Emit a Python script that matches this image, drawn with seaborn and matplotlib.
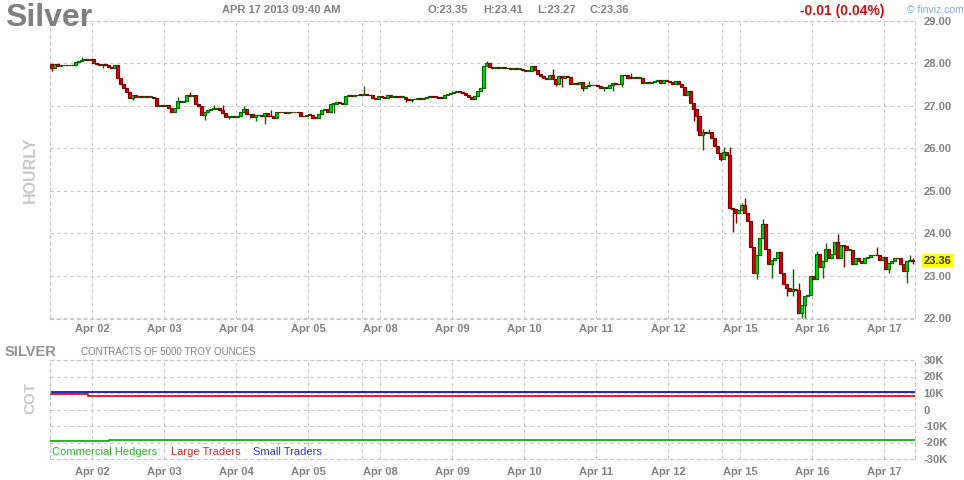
import numpy as np
import pandas as pd
import matplotlib
matplotlib.use("Agg")
import matplotlib.pyplot as plt
import seaborn as sns

# ---------------- data ----------------
open_first = 27.97
closes = [
    27.88, 27.97, 27.94, 27.95, 27.96, 27.95, 27.96, 27.95, 28.03, 28.06,
    28.08, 28.10, 28.07, 28.09, 27.99, 27.97, 27.96, 27.98, 27.95, 27.90,
    27.89, 27.96, 27.65, 27.50, 27.42, 27.33, 27.17, 27.26, 27.20, 27.21,
    27.20, 27.21, 27.20, 27.21, 27.18, 27.00, 27.02, 26.98, 27.01, 26.94,
    26.86, 26.95, 27.10, 27.09, 27.12, 27.24, 27.22, 27.25, 27.05, 26.98,
    26.78, 26.86, 26.90, 26.93, 26.93, 26.94, 26.90, 26.82, 26.74, 26.74,
    26.75, 26.74, 26.76, 26.85, 26.92, 26.80, 26.80, 26.73, 26.77, 26.78,
    26.76, 26.83, 26.76, 26.75, 26.72, 26.85, 26.84, 26.86, 26.83, 26.85,
    26.84, 26.86, 26.84, 26.76, 26.75, 26.79, 26.78, 26.72, 26.71, 26.80,
    26.90, 26.91, 26.86, 27.05, 27.05, 27.08, 27.06, 27.04, 27.22, 27.24,
    27.23, 27.24, 27.26, 27.25, 27.28, 27.26, 27.24, 27.19, 27.16, 27.22,
    27.21, 27.18, 27.24, 27.20, 27.22, 27.21, 27.20, 27.21, 27.15, 27.14,
    27.15, 27.16, 27.17, 27.16, 27.18, 27.21, 27.22, 27.21, 27.20, 27.19,
    27.18, 27.26, 27.28, 27.29, 27.33, 27.35, 27.32, 27.30, 27.24, 27.20,
    27.16, 27.23, 27.35, 27.42, 27.93, 28.00, 27.90, 27.89, 27.90, 27.88,
    27.91, 27.88, 27.89, 27.87, 27.88, 27.86, 27.87, 27.84, 27.82, 27.82,
    27.94, 27.84, 27.75, 27.69, 27.65, 27.63, 27.72, 27.62, 27.50, 27.70,
    27.66, 27.70, 27.68, 27.51, 27.53, 27.51, 27.56, 27.42, 27.46, 27.48,
    27.49, 27.48, 27.47, 27.42, 27.43, 27.42, 27.49, 27.53, 27.51, 27.50,
    27.73, 27.71, 27.66, 27.65, 27.67, 27.65, 27.65, 27.53, 27.55, 27.54,
    27.55, 27.58, 27.60, 27.54, 27.60, 27.58, 27.55, 27.52, 27.57, 27.50,
    27.44, 27.25, 27.34, 27.06, 26.92, 26.76, 26.32, 26.37, 26.36, 26.37,
    26.25, 26.06, 25.89, 25.75, 25.90, 25.85, 24.59, 24.58, 24.47, 24.55,
    24.67, 24.48, 24.28, 23.69, 23.08, 23.50, 23.90, 24.23, 23.64, 23.27,
    23.37, 23.42, 23.56, 23.08, 22.80, 22.71, 22.65, 22.70, 22.68, 22.12,
    22.31, 22.53, 22.56, 23.00, 22.92, 23.51, 23.22, 23.35, 23.64, 23.43,
    23.51, 23.80, 23.41, 23.72, 23.71, 23.62, 23.62, 23.29, 23.43, 23.35,
    23.30, 23.43, 23.45, 23.48, 23.49, 23.48, 23.37, 23.45, 23.17, 23.31,
    23.35, 23.43, 23.41, 23.27, 23.12, 23.35, 23.37, 23.36,
]
wick_highs = {10: 28.15, 42: 27.21, 46: 27.33, 54: 27.02, 57: 27.02, 64: 27.00,
              73: 26.90, 104: 27.47, 145: 28.04, 167: 27.87, 179: 27.59,
              193: 27.77, 217: 26.44, 219: 26.44, 224: 26.03, 226: 26.03,
              230: 24.72, 231: 24.84, 237: 24.34, 247: 23.16, 249: 22.84,
              253: 22.76, 255: 23.59, 258: 23.78, 262: 23.98, 275: 23.69,
              286: 23.50, 287: 23.41}
wick_lows = {0: 27.82, 17: 27.89, 27: 27.13, 51: 26.67, 59: 26.68, 66: 26.70,
             68: 26.63, 71: 26.57, 94: 26.83, 118: 27.08, 120: 27.08,
             168: 27.45, 170: 27.44, 177: 27.35, 184: 27.34, 187: 27.34,
             190: 27.44, 214: 26.63, 215: 26.40, 217: 25.95, 223: 25.70,
             227: 24.04, 228: 24.24, 235: 22.92, 240: 22.94, 245: 22.53,
             247: 22.53, 250: 22.00, 251: 22.02, 257: 22.94, 264: 23.20,
             279: 23.08, 285: 22.83, 287: 23.27}
day_labels = ["Apr 02", "Apr 03", "Apr 04", "Apr 05", "Apr 08", "Apr 09",
              "Apr 10", "Apr 11", "Apr 12", "Apr 15", "Apr 16", "Apr 17"]
price_ticks = [22, 23, 24, 25, 26, 27, 28, 29]
last_price = 23.36

cot_x = [-0.5, 12, 19, 287.8]
cot_hedgers = [-18800, -18800, -18200, -18200]
cot_large = [9100, 8400, 8400, 8400]
cot_small = [10700, 10700, 10700, 10700]
cot_ticks = [-30000, -20000, -10000, 0, 10000, 20000, 30000]
cot_tick_labels = ["-30K", "-20K", "-10K", "0", "10K", "20K", "30K"]

# ---------------- style ----------------
sns.set_style("white")
plt.rcParams["font.family"] = ["Liberation Sans", "DejaVu Sans"]

W, H = 964, 480
fig = plt.figure(figsize=(W / 100, H / 100), dpi=100)

def axrect(l, t, r, b):
    return [l / W, 1 - b / H, (r - l) / W, (b - t) / H]

ax = fig.add_axes(axrect(50, 20.5, 915, 318.5))
ax2 = fig.add_axes(axrect(50, 360, 915, 459))

GRID = "#c8c8c8"
DASH = (0, (3, 3))
TXT = "#808080"
n = len(closes)
xs = np.arange(n)
opens = [open_first] + closes[:-1]
highs = [max(o, c, wick_highs.get(i, -1)) for i, (o, c) in enumerate(zip(opens, closes))]
lows = [min(o, c, wick_lows.get(i, 99)) for i, (o, c) in enumerate(zip(opens, closes))]
up = [c >= o for o, c in zip(opens, closes)]
fill = ["#00dd00" if u else "#e00000" for u in up]
edge = ["#006600" if u else "#800000" for u in up]

xmin, xmax = -0.5, 287.8
ticks_x = [13.5 + 24 * k for k in range(len(day_labels))]
week_lines = [103.5, 223.5]

for a in (ax, ax2):
    a.set_xlim(xmin, xmax)
    a.set_xticks(ticks_x)
    a.set_xticklabels(day_labels, fontsize=8, fontweight="bold", color=TXT)
    a.tick_params(axis="x", length=0)
    a.yaxis.tick_right()
    a.tick_params(axis="y", length=0, labelsize=8, labelcolor=TXT, pad=6)
    a.grid(True, color=GRID, linestyle=DASH, linewidth=0.8)
    for wl in week_lines:
        a.axvline(wl, color=GRID, linestyle=DASH, linewidth=0.8, zorder=0)
    for s in a.spines.values():
        s.set_color(GRID)
        s.set_linestyle(DASH)
        s.set_linewidth(0.8)
    a.set_axisbelow(True)

# candles
ax.vlines(xs, lows, highs, colors=edge, linewidth=1.0, zorder=2)
bottoms = [min(o, c) for o, c in zip(opens, closes)]
heights = [max(abs(c - o), 0.015) for o, c in zip(opens, closes)]
ax.bar(xs, heights, bottom=bottoms, width=0.82, color=fill, edgecolor=edge,
       linewidth=0.85, zorder=3)
ax.set_ylim(22, 29)
ax.set_yticks(price_ticks)
ax.set_yticklabels([f"{t:.2f}" for t in price_ticks], fontweight="bold")
ax.tick_params(axis="x", pad=4)
ax.annotate(f"{last_price:.2f}", xy=(1, last_price), xycoords=("axes fraction", "data"),
            xytext=(6, 0), textcoords="offset points", ha="left", va="center",
            fontsize=8, fontweight="bold", color="#333333",
            bbox=dict(boxstyle="square,pad=0.15", fc="#ffff00", ec="none"))

# COT
cot_df = pd.DataFrame({
    "x": cot_x * 3,
    "v": cot_hedgers + cot_large + cot_small,
    "s": ["Commercial Hedgers"] * 4 + ["Large Traders"] * 4 + ["Small Traders"] * 4,
})
sns.lineplot(data=cot_df, x="x", y="v", hue="s", ax=ax2, legend=False,
             palette={"Commercial Hedgers": "#00aa00", "Large Traders": "#cc0000",
                      "Small Traders": "#0000aa"},
             drawstyle="steps-post", linewidth=1.2, estimator=None, sort=False)
ax2.set_ylim(-30000, 30000)
ax2.set_yticks(cot_ticks)
ax2.set_yticklabels(cot_tick_labels, fontweight="bold")
ax2.set_xlabel("")
ax2.set_ylabel("")
ax2.tick_params(axis="x", pad=6)

# ---------------- texts ----------------
def ftext(x, y, s, **kw):
    fig.text(x / W, 1 - y / H, s, **kw)

ftext(5, 18, "Silver", fontsize=23, fontweight="bold", color="#7f7f7f", va="center")
ftext(222, 10, "APR 17 2013 09:40 AM", fontsize=8, fontweight="bold", color=TXT, va="center")
ftext(428, 10, "O:23.35", fontsize=8, fontweight="bold", color=TXT, va="center")
ftext(483, 10, "H:23.41", fontsize=8, fontweight="bold", color=TXT, va="center")
ftext(537, 10, "L:23.27", fontsize=8, fontweight="bold", color=TXT, va="center")
ftext(590, 10, "C:23.36", fontsize=8, fontweight="bold", color=TXT, va="center")
ftext(800, 11, "-0.01 (0.04%)", fontsize=10, fontweight="bold", color="#cc1111", va="center")
ftext(907, 10, "© finviz.com", fontsize=7.5, color="#7fb0e0", va="center")
ftext(30, 170, "HOURLY", fontsize=11.5, fontweight="bold", color="#c8c8c8",
      rotation=90, ha="center", va="center")
ftext(30, 398, "COT", fontsize=11, fontweight="bold", color="#c8c8c8",
      rotation=90, ha="center", va="center")
ftext(5, 352, "SILVER", fontsize=10.5, fontweight="bold", color="#909090", va="center")
ftext(81, 352, "CONTRACTS OF 5000 TROY OUNCES", fontsize=7, color=TXT, va="center")
ftext(52, 452, "Commercial Hedgers", fontsize=8, color="#22bb22", va="center")
ftext(171, 452, "Large Traders", fontsize=8, color="#dd2222", va="center")
ftext(253, 452, "Small Traders", fontsize=8, color="#3333cc", va="center")

fig.savefig("out.png", dpi=100, facecolor="white")
